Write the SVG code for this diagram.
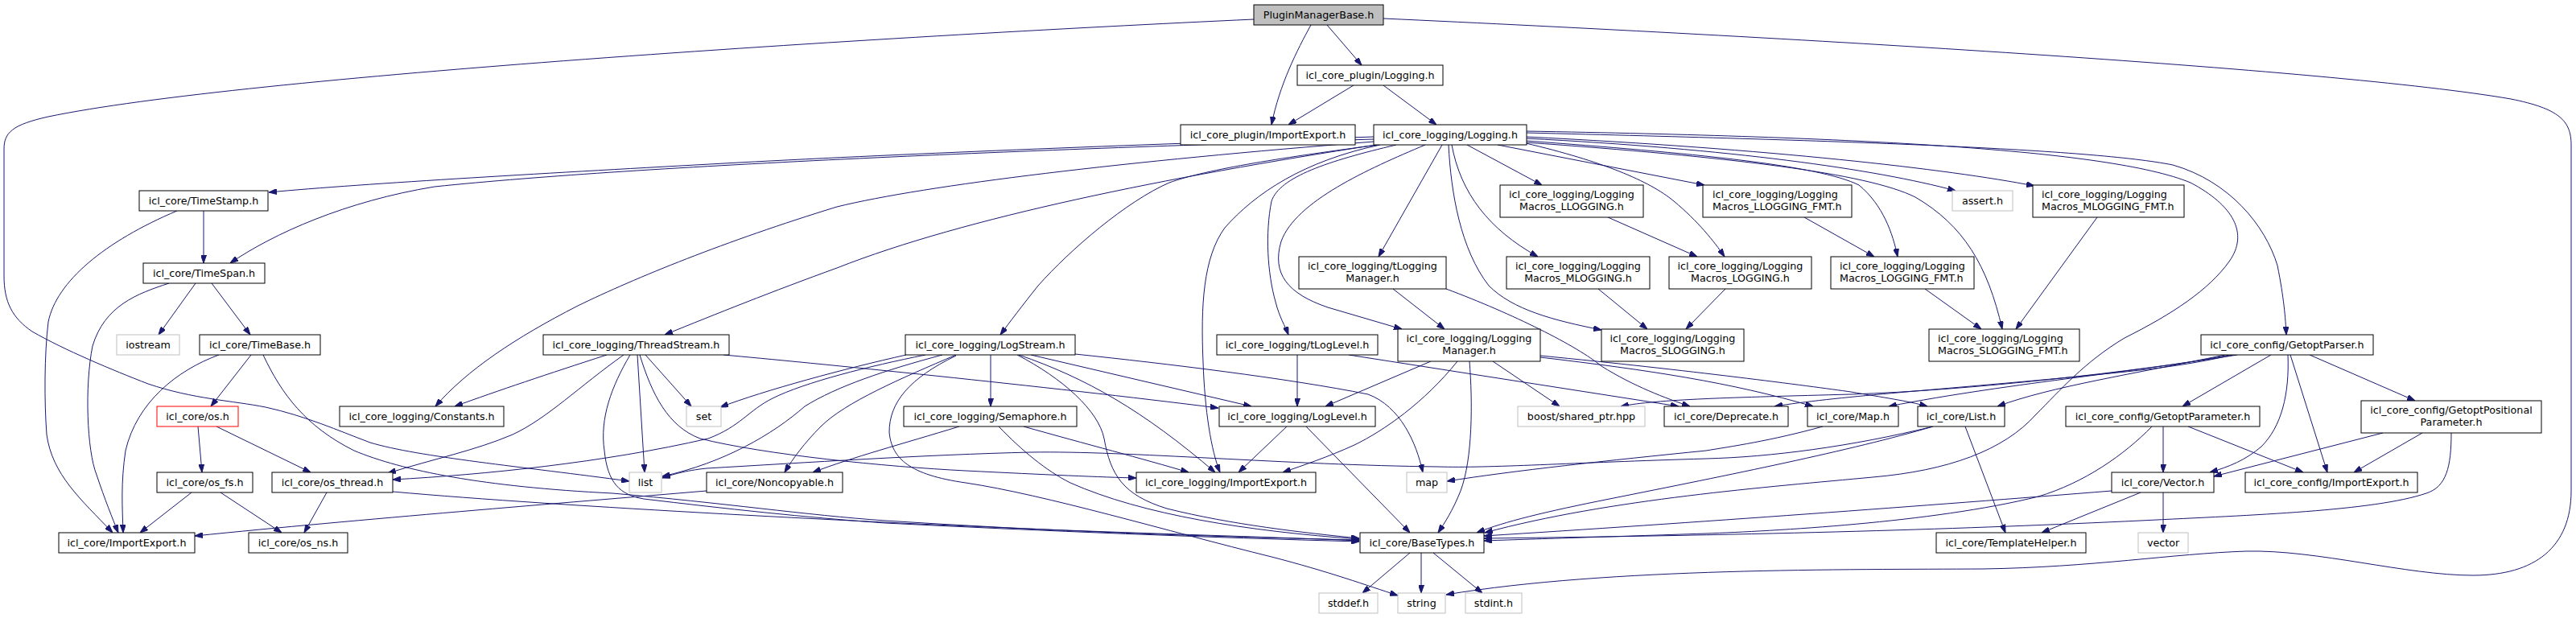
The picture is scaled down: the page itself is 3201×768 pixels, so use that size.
<svg xmlns="http://www.w3.org/2000/svg" width="3201" height="768" viewBox="0 0 3201 768">
<defs>
<marker id="a" viewBox="0 0 10 7" refX="10" refY="3.5" markerWidth="10" markerHeight="7" markerUnits="userSpaceOnUse" orient="auto">
<path d="M0,0 L10,3.5 L0,7 z" fill="#191970" stroke="#191970" stroke-width="1"/>
</marker>
</defs>
<style>
rect{fill:#fff;stroke:#000;stroke-width:1}
.x rect{stroke:#bfbfbf}
.r rect{stroke:#ff0000}
.root rect{fill:#bfbfbf}
text{font-family:"DejaVu Sans","Liberation Sans",sans-serif;font-size:12.7px;fill:#000;text-anchor:middle}
text.l{text-anchor:start}
#edges path{fill:none;stroke:#191970;stroke-width:1;marker-end:url(#a)}
</style>
<rect x="0" y="0" width="3201" height="768" style="fill:#fff;stroke:none"/>
<g id="edges">
<path d="M1629,31 C1612,62 1590,105 1580,155"/>
<path d="M1649,31 L1692,81"/>
<path d="M1558,24 C1100,45 300,95 60,145 C15,155 5,165 5,185 L5,343 C5,375 15,395 40,412 C80,435 140,460 184,477 C240,496 290,498 330,506 C380,517 420,535 460,550 C520,568 650,580 782,598"/>
<path d="M1719,23 C2200,45 2900,85 3120,123 C3180,135 3195,150 3195,180 L3195,610 C3195,680 3150,715 3073,715 C2990,715 2880,683 2791,685 C2700,688 2600,705 2464,707 C2300,708 2000,705 1797,739"/>
<path d="M1682,106 L1601,155"/>
<path d="M1719,106 L1785,155"/>
<path d="M1707,170 C1400,180 1100,192 900,203 C700,214 450,228 334,239"/>
<path d="M1707,173 C1300,185 800,205 540,232 C430,250 340,290 286,327"/>
<path d="M1707,176 C1400,200 1150,230 1040,257 C900,300 790,345 718,380 C640,420 580,460 541,505"/>
<path d="M1710,180 C1450,220 1200,270 1040,333 C960,362 890,390 826,416"/>
<path d="M1712,180 C1600,195 1500,210 1453,227 C1400,250 1330,310 1290,355 C1270,380 1255,400 1243,416"/>
<path d="M1715,180 C1620,200 1560,240 1522,283 C1495,320 1492,380 1495,450 C1497,510 1505,560 1516,587"/>
<path d="M1735,180 C1650,200 1590,220 1580,250 C1572,290 1575,340 1585,375 C1590,395 1597,405 1601,416"/>
<path d="M1771,180 C1700,210 1610,250 1592,300 C1580,340 1600,365 1650,382 L1742,409"/>
<path d="M1792,180 L1713,319"/>
<path d="M1800,180 C1803,240 1815,310 1850,355 C1880,385 1930,398 1990,410"/>
<path d="M1804,180 C1815,240 1850,285 1911,319"/>
<path d="M1823,180 L1916,230"/>
<path d="M1861,180 L2118,230"/>
<path d="M1896,178 C1990,200 2050,225 2080,250 C2110,275 2130,300 2143,319"/>
<path d="M1896,175 C2100,190 2260,205 2310,230 C2340,255 2352,290 2358,319"/>
<path d="M1896,177 C2150,195 2320,215 2380,245 C2440,280 2470,330 2488,409"/>
<path d="M1896,172 C2150,185 2330,210 2430,237"/>
<path d="M1896,170 C2200,185 2420,210 2528,231"/>
<path d="M1896,165 C2300,175 2600,185 2700,205 C2770,225 2815,280 2830,330 C2838,370 2840,395 2841,416"/>
<path d="M1896,163 C2300,170 2620,185 2722,227 C2775,255 2795,290 2770,325 C2745,360 2700,390 2640,420 C2590,450 2560,485 2530,515 C2490,560 2420,585 2327,593 C2200,605 2000,620 1845,662"/>
<path d="M1731,359 L1795,409"/>
<path d="M1797,359 C1880,390 1960,430 1990,455 C2030,480 2070,495 2100,505"/>
<path d="M1676,441 L2086,505"/>
<path d="M1612,441 L1612,505"/>
<path d="M1778,449 L1647,505"/>
<path d="M1811,449 C1770,500 1720,535 1683,553 C1650,568 1620,578 1594,587"/>
<path d="M1826,449 C1830,500 1830,570 1815,610 C1805,635 1795,650 1787,662"/>
<path d="M1855,449 L1938,505"/>
<path d="M1914,442 C2100,460 2250,480 2300,487 C2340,494 2370,498 2395,505"/>
<path d="M1914,444 C2050,460 2150,475 2253,505"/>
<path d="M2780,441 C2650,462 2450,485 2300,490 C2150,494 2060,496 2014,505"/>
<path d="M2775,441 C2700,458 2640,462 2560,470 C2400,485 2280,493 2205,505"/>
<path d="M2770,441 C2680,460 2500,475 2347,505"/>
<path d="M2765,441 C2650,465 2550,480 2482,505"/>
<path d="M2822,441 L2712,505"/>
<path d="M2843,441 C2845,490 2835,530 2810,555 C2790,572 2770,580 2746,587"/>
<path d="M2846,441 L2892,587"/>
<path d="M2870,441 L3001,498"/>
<path d="M2688,530 L2688,587"/>
<path d="M2719,530 L2862,587"/>
<path d="M2674,530 C2640,565 2590,600 2533,617 C2400,650 2200,660 2120,663 C2000,667 1900,670 1844,672"/>
<path d="M2961,538 L2751,592"/>
<path d="M3010,538 L2925,587"/>
<path d="M3046,538 C3046,580 3040,605 3015,613 C2950,635 2800,640 2660,647 C2450,657 2200,665 1844,669"/>
<path d="M2688,612 L2688,662"/>
<path d="M2624,610 C2400,628 2100,650 1844,666"/>
<path d="M2660,612 L2537,662"/>
<path d="M2442,530 L2492,662"/>
<path d="M2402,530 C2300,560 2150,590 2000,620 C1920,636 1870,648 1835,662"/>
<path d="M2402,530 C2300,555 2200,568 2120,570 C1950,575 1850,582 1787,580 C1600,578 1400,560 1281,562 C1150,565 1000,575 878,582 C850,585 835,590 823,594"/>
<path d="M2265,530 C2200,548 2150,555 2120,560 C2000,572 1880,585 1798,598"/>
<path d="M1126,441 C1050,458 950,485 895,506"/>
<path d="M1150,441 C1080,455 1000,475 960,495 C930,510 920,530 880,545 C750,575 600,590 488,596"/>
<path d="M1171,441 C1100,460 1040,480 1000,505 C960,540 900,575 823,592"/>
<path d="M1188,441 C1120,470 1050,500 1020,530 C1000,550 985,570 975,587"/>
<path d="M1188,442 C1130,470 1105,500 1105,537 C1108,570 1130,590 1200,600 C1300,615 1450,660 1580,692 C1650,710 1700,728 1737,740"/>
<path d="M1231,441 L1231,505"/>
<path d="M1264,441 C1320,470 1365,510 1372,545 C1380,590 1395,615 1450,632 C1530,652 1620,662 1689,669"/>
<path d="M1266,441 C1350,470 1420,510 1510,587"/>
<path d="M1281,441 L1555,505"/>
<path d="M1336,440 C1450,452 1600,470 1700,490 C1740,505 1760,550 1768,587"/>
<path d="M754,441 C680,465 620,485 565,505"/>
<path d="M775,441 C720,480 680,520 637,540 C590,560 540,570 482,588"/>
<path d="M783,441 C760,480 745,520 751,560 C755,600 770,615 800,620 C900,632 1000,643 1100,650 C1300,660 1500,668 1689,673"/>
<path d="M792,441 L801,587"/>
<path d="M802,441 L859,505"/>
<path d="M795,441 C810,490 830,530 870,545 C950,565 1100,580 1200,585 C1300,590 1370,593 1412,594"/>
<path d="M899,441 C1000,450 1300,480 1514,507"/>
<path d="M312,441 L262,505"/>
<path d="M272,441 C220,460 170,500 156,560 C150,600 152,630 153,662"/>
<path d="M327,441 C350,490 380,530 440,560 C500,585 600,605 761,613 C900,625 1000,640 1100,647 C1300,660 1500,667 1689,671"/>
<path d="M253,262 L253,327"/>
<path d="M220,262 C130,300 70,350 60,400 C55,440 55,500 58,540 C65,590 100,620 140,662"/>
<path d="M243,352 L197,416"/>
<path d="M263,352 L311,416"/>
<path d="M210,352 C170,365 130,380 115,430 C105,480 108,560 120,590 C130,620 140,645 147,662"/>
<path d="M246,530 L251,587"/>
<path d="M269,530 L386,587"/>
<path d="M238,612 L174,662"/>
<path d="M274,612 L350,662"/>
<path d="M406,612 L378,662"/>
<path d="M488,611 C700,630 1100,650 1300,658 C1450,664 1600,668 1689,672"/>
<path d="M878,610 C700,625 450,645 242,666"/>
<path d="M1192,530 C1120,552 1060,568 1010,587"/>
<path d="M1272,530 C1350,552 1420,570 1477,587"/>
<path d="M1241,530 C1270,560 1300,585 1330,600 C1420,640 1550,660 1689,670"/>
<path d="M1599,530 L1539,587"/>
<path d="M1623,530 L1752,662"/>
<path d="M1752,687 L1693,737"/>
<path d="M1766,687 L1766,737"/>
<path d="M1781,687 L1842,737"/>
<path d="M1998,270 L2109,319"/>
<path d="M2242,270 L2329,319"/>
<path d="M1986,359 L2047,409"/>
<path d="M2144,359 L2095,409"/>
<path d="M2392,359 L2462,409"/>
<path d="M2606,270 L2505,409"/>
</g>
<g id="n_pmb" class="root"><rect x="1558" y="6" width="161" height="25"/><text x="1638.5" y="23">PluginManagerBase.h</text></g>
<g id="n_plog"><rect x="1612" y="81" width="181" height="25"/><text x="1702.5" y="98">icl_core_plugin/Logging.h</text></g>
<g id="n_pie"><rect x="1467" y="155" width="217" height="25"/><text x="1575.5" y="172">icl_core_plugin/ImportExport.h</text></g>
<g id="n_lh"><rect x="1707" y="155" width="190" height="25"/><text x="1802" y="172">icl_core_logging/Logging.h</text></g>
<g id="n_tstamp"><rect x="173" y="237" width="160" height="25"/><text x="253" y="254">icl_core/TimeStamp.h</text></g>
<g id="n_llog"><rect x="1864" y="230" width="178" height="40"/><text x="1953" y="246">icl_core_logging/Logging</text><text x="1953" y="261">Macros_LLOGGING.h</text></g>
<g id="n_llogf"><rect x="2116" y="230" width="185" height="40"/><text class="l" x="2128" y="246">icl_core_logging/Logging</text><text class="l" x="2128" y="261">Macros_LLOGGING_FMT.h</text></g>
<g id="n_assert" class="x"><rect x="2426" y="237" width="75" height="25"/><text x="2463.5" y="254">assert.h</text></g>
<g id="n_mlogf"><rect x="2526" y="230" width="188" height="40"/><text class="l" x="2537" y="246">icl_core_logging/Logging</text><text class="l" x="2537" y="261">Macros_MLOGGING_FMT.h</text></g>
<g id="n_tspan"><rect x="178" y="327" width="151" height="25"/><text x="253.5" y="344">icl_core/TimeSpan.h</text></g>
<g id="n_tlm"><rect x="1614" y="319" width="183" height="40"/><text x="1705.5" y="335">icl_core_logging/tLogging</text><text x="1705.5" y="350">Manager.h</text></g>
<g id="n_mlog"><rect x="1872" y="319" width="178" height="40"/><text x="1961" y="335">icl_core_logging/Logging</text><text x="1961" y="350">Macros_MLOGGING.h</text></g>
<g id="n_log"><rect x="2074" y="319" width="177" height="40"/><text x="2162.5" y="335">icl_core_logging/Logging</text><text x="2162.5" y="350">Macros_LOGGING.h</text></g>
<g id="n_logf"><rect x="2275" y="319" width="178" height="40"/><text class="l" x="2286" y="335">icl_core_logging/Logging</text><text class="l" x="2286" y="350">Macros_LOGGING_FMT.h</text></g>
<g id="n_iostream" class="x"><rect x="145" y="416" width="78" height="25"/><text x="184" y="433">iostream</text></g>
<g id="n_tbase"><rect x="248" y="416" width="150" height="25"/><text x="323" y="433">icl_core/TimeBase.h</text></g>
<g id="n_thread"><rect x="675" y="416" width="231" height="25"/><text x="790.5" y="433">icl_core_logging/ThreadStream.h</text></g>
<g id="n_lstream"><rect x="1125" y="416" width="211" height="25"/><text x="1230.5" y="433">icl_core_logging/LogStream.h</text></g>
<g id="n_tloglevel"><rect x="1512" y="416" width="200" height="25"/><text x="1612" y="433">icl_core_logging/tLogLevel.h</text></g>
<g id="n_lm"><rect x="1737" y="409" width="177" height="40"/><text x="1825.5" y="425">icl_core_logging/Logging</text><text x="1825.5" y="440">Manager.h</text></g>
<g id="n_slog"><rect x="1990" y="409" width="177" height="40"/><text x="2078.5" y="425">icl_core_logging/Logging</text><text x="2078.5" y="440">Macros_SLOGGING.h</text></g>
<g id="n_slogf"><rect x="2397" y="409" width="187" height="40"/><text class="l" x="2408" y="425">icl_core_logging/Logging</text><text class="l" x="2408" y="440">Macros_SLOGGING_FMT.h</text></g>
<g id="n_gparser"><rect x="2735" y="416" width="214" height="25"/><text x="2842" y="433">icl_core_config/GetoptParser.h</text></g>
<g id="n_os" class="r"><rect x="195" y="505" width="101" height="25"/><text x="245.5" y="522">icl_core/os.h</text></g>
<g id="n_const"><rect x="422" y="505" width="204" height="25"/><text x="524" y="522">icl_core_logging/Constants.h</text></g>
<g id="n_set" class="x"><rect x="853" y="505" width="43" height="25"/><text x="874.5" y="522">set</text></g>
<g id="n_sem"><rect x="1123" y="505" width="215" height="25"/><text x="1230.5" y="522">icl_core_logging/Semaphore.h</text></g>
<g id="n_loglevel"><rect x="1515" y="505" width="194" height="25"/><text x="1612" y="522">icl_core_logging/LogLevel.h</text></g>
<g id="n_boost" class="x"><rect x="1886" y="505" width="158" height="25"/><text x="1965" y="522">boost/shared_ptr.hpp</text></g>
<g id="n_dep"><rect x="2068" y="505" width="154" height="25"/><text x="2145" y="522">icl_core/Deprecate.h</text></g>
<g id="n_maph"><rect x="2246" y="505" width="113" height="25"/><text x="2302.5" y="522">icl_core/Map.h</text></g>
<g id="n_listh"><rect x="2383" y="505" width="108" height="25"/><text x="2437" y="522">icl_core/List.h</text></g>
<g id="n_gparam"><rect x="2567" y="505" width="241" height="25"/><text x="2687.5" y="522">icl_core_config/GetoptParameter.h</text></g>
<g id="n_gpos"><rect x="2934" y="498" width="224" height="40"/><text x="3046" y="514">icl_core_config/GetoptPositional</text><text x="3046" y="529">Parameter.h</text></g>
<g id="n_osfs"><rect x="195" y="587" width="119" height="25"/><text x="254.5" y="604">icl_core/os_fs.h</text></g>
<g id="n_osthread"><rect x="338" y="587" width="150" height="25"/><text x="413" y="604">icl_core/os_thread.h</text></g>
<g id="n_list" class="x"><rect x="782" y="587" width="40" height="25"/><text x="802" y="604">list</text></g>
<g id="n_noncopy"><rect x="878" y="587" width="169" height="25"/><text x="962.5" y="604">icl_core/Noncopyable.h</text></g>
<g id="n_lie"><rect x="1412" y="587" width="223" height="25"/><text x="1523.5" y="604">icl_core_logging/ImportExport.h</text></g>
<g id="n_map" class="x"><rect x="1748" y="587" width="50" height="25"/><text x="1773" y="604">map</text></g>
<g id="n_vectorh"><rect x="2624" y="587" width="127" height="25"/><text x="2687.5" y="604">icl_core/Vector.h</text></g>
<g id="n_cie"><rect x="2790" y="587" width="214" height="25"/><text x="2897" y="604">icl_core_config/ImportExport.h</text></g>
<g id="n_coreie"><rect x="73" y="662" width="169" height="25"/><text x="157.5" y="679">icl_core/ImportExport.h</text></g>
<g id="n_osns"><rect x="309" y="662" width="123" height="25"/><text x="370.5" y="679">icl_core/os_ns.h</text></g>
<g id="n_basetypes"><rect x="1690" y="662" width="154" height="25"/><text x="1767" y="679">icl_core/BaseTypes.h</text></g>
<g id="n_thelper"><rect x="2406" y="662" width="186" height="25"/><text x="2499" y="679">icl_core/TemplateHelper.h</text></g>
<g id="n_vector" class="x"><rect x="2657" y="662" width="62" height="25"/><text x="2688" y="679">vector</text></g>
<g id="n_stddef" class="x"><rect x="1639" y="737" width="73" height="25"/><text x="1675.5" y="754">stddef.h</text></g>
<g id="n_string" class="x"><rect x="1737" y="737" width="59" height="25"/><text x="1766.5" y="754">string</text></g>
<g id="n_stdint" class="x"><rect x="1821" y="737" width="70" height="25"/><text x="1856" y="754">stdint.h</text></g>
</svg>
